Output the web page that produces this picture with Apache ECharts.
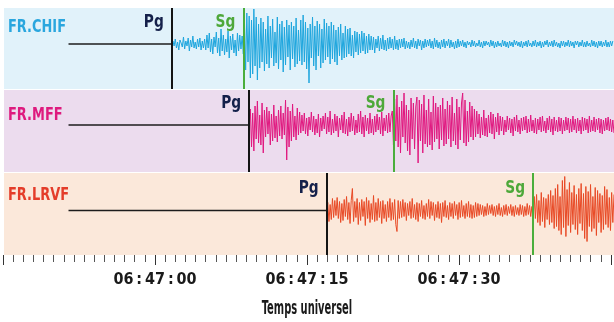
<!DOCTYPE html>
<html><head><meta charset="utf-8">
<script src="https://cdn.jsdelivr.net/npm/echarts@6/dist/echarts.min.js"></script>
<style>html,body{margin:0;padding:0;background:#fff}#c{width:614px;height:322px}</style>
</head><body><div id="c"></div>
<script>
// ---------- DATA ----------
const stations = ['FR.CHIF', 'FR.MFF', 'FR.LRVF'];
// seconds relative to 06:47:00 UT
const pgTimes = [1.8, 8.4, 15.0];
const sgTimes = [7.9, 20.7, 32.6];
const phaseNames = ['Pg', 'Sg'];
const flatStart = -7;          // start of the quiet (pre-event) trace
const sampleStep = 0.1;        // seconds between samples
const tickValues = [0, 15, 30];
const tickLabels = ['06\u2009:\u200947\u2009:\u200900', '06\u2009:\u200947\u2009:\u200915', '06\u2009:\u200947\u2009:\u200930'];
const axisTitle = 'Temps universel';

const chifValues = [
  0, 3, -2, 5, -4, 2, -6, 4, 1, -3, 7, -5, 3, -2, 6, -7, 4, -3, 8, -4, 2, -5, 5, -3, 6, -6, 3, -4, 5,
  -6, 9, -4, 11, -8, 5, -10, 7, -3, 12, -9, 6, -12, 15, -7, 9, -11, 5, -8, 13, -14, 8, -6, 10, -9, 4, -12, 11, -7, 9, -5, 8,
  -10, 22, -26, 31, -18, 28, -34, 24, -30, 35, -22, 27, -36, 20, -24,
  26, -18, 22, -27, 15, -20, 28, -24, 18, -14, 25, -22, 12, -19, 27, -25, 20, -16, 23, -28, 17, -21, 24, -13, 19, -26, 22, -15, 18, -23, 26, -20, 14, -17,
  24, -21, 29, -18, 22, -25, 16, -39, 20, -14, 27, -22, 18, -26, 23, -12, 20, -24, 15, -19, 25, -16, 21, -13, 18, -20,
  22, -15, 19, -18, 14, -21, 17, -12, 20, -16, 11, -14, 18, -13, 15, -10, 16, -12, 9, -14, 13, -8, 12, -11, 10, -9, 13, -7, 11, -10, 8, -9, 10, -6,
  8, -6, 7, -9, 5, -4, 8, -7, 6, -5, 9, -6, 4, -7, 6, -5, 7, -4, 5, -6, 8, -5, 4, -6, 5,
  -4, 5, -3, 6, -5, 3, -4, 2, -5, 4, -3, 6, -4, 3, -5, 5, -2, 4, -6, 3, -4, 5, -3, 4, -2, 5, -4, 3, -5, 6,
  -3, 4, -4, 2, -5, 4, -3, 5, -4, 3, -2, 5, -4, 4, -3, 2, -5, 3, -4, 5, -3,
  3, -2, 4, -3, 2, -4, 3, -1, 2, -3, 4, -2, 3, -3, 1, -2, 4, -3, 2, -4, 3, -2, 3, -1, 2, -3, 4, -2, 3, -4,
  2, -3, 3, -2, 1, -3, 4, -2, 3, -3, 2, -4, 3, -2, 2, -3, 4, -1, 3, -2, 2, -3, 3, -4, 2, -2, 3, -3, 4, -2,
  1, -3, 3, -2, 4, -3, 2, -2, 3, -4, 2, -3, 3, -1, 4, -3, 2, -2, 3, -3, 4, -2, 2, -3, 1, -4, 3, -2, 3, -3,
  2, -2, 4, -3, 3, -2, 2, -4, 3, -1, 3, -3, 2, -2, 4, -3, 2, -3, 3, -2, 1, -3, 4, -2, 3, -3, 2, -4, 3, -2,
  3, -3, 2, -2, 4, -3, 2, -3, 3, -2, 3
];
const mffValues = [
  0, 16, -22, 12, -26, 19, -14, 24, -18, 10, -20,
  22, -28, 15, -12, 18, -9, 14, -20, 11, -16, 20, -13, 9, -17, 15, -11, 19, -14, 12, -10, 25, -35, 18, -22, 14, -16, 21, -12, 9, -15, 17, -10, 13,
  -8, 10, -6, 12, -9, 7, -11, 8, -5, 13, -7, 9, -10, 6, -8, 11, -12, 7, -6, 9, -4, 12, -9, 8, -7, 14, -10, 6, -8, 11,
  -6, 9, -12, 7, -5, 10, -8, 13, -9, 6, -11, 8, -7, 12, -6, 9, -10, 5, -8, 11, -7, 14, -9, 8, -12, 10, -6, 7, -9, 12,
  -8, 6, -10, 9, -7, 11, -5, 8, -9, 13, -11, 7, -6, 10, -8, 12, -7, 9,
  14, -20, 26, -16, 30, -22, 18, -28, 24, -12, 32, -18, 20, -26, 15, -30, 27, -14, 22, -24, 18, 28, -38, 25, -16,
  21, -28, 30, -19, 15, -22, 26, -20, 13, -25, 29, -17, 22, -14, 18, -24, 20, -15, 27, -21,
  16, -19, 24, -14, 20, -22, 28, -16, 12, -20, 26, -24, 18, -15, 22, 32, -18, 25, -21, 14, -17, 23, -12, 19, -15, 16,
  -12, 14, -9, 11, -13, 8, -10, 15, -11, 7, -12, 10, -8, 13, -9, 11, -14, 8, -7, 12, -10,
  9, -6, 8, -10, 5, -7, 9, -5, 7, -8, 6, -11, 8, -6, 10, -7, 5, -9, 7, -6, 8, -5, 9, -8, 6, -7, 10, -6, 5, -8,
  7, -9, 6, -5, 8, -7, 9, -6, 4, -8, 7, -5, 9, -7, 6, -10, 8, -6, 5, -7, 8, -6, 7, -9, 5, -6, 8, -5, 7, -8,
  6, -7, 9, -5, 6, -8, 7, -6, 5, -9, 8, -6, 7, -5, 6, -8, 9, -7, 5, -6, 8, -7, 6, -5, 7, -8, 6, -9, 5, -6,
  7, -5, 8, -6, 6, -7, 5, -8
];
const lrvfValues = [
  0, 8, -11, 6, -9, 12, -7, 10, -5, 13, -8, 9, -12, 7, -10, 11, -6, 14, -9, 8, -13, 10, 22, -11, 9, -7, 12, -14, 8, -10,
  11, -6, 9, -15, 13, -8, 10, -12, 7, -9, 15, -11, 8, -10, 12, -7, 9, -13, 10, -8, 6, -11, 9, -7, 12, -10, 8, -9, 11, -14,
  -21, 10, -8,
  9, -7, 11, -6, 8, -10, 7, -5, 9, -8, 12, -7, 6, -9, 8, -11, 7, -6, 10, -8, 5, -9, 7, -6, 11, -8, 9, -5, 8, -10,
  6, -7, 9, -8, 7, -12, 8, -6, 10, -7, 5, -9, 8, -6, 7, -8, 9, -5, 6, -9, 8, -7, 10, -6, 5, -8, 7, -6, 9, -7,
  6, -8, 5, -7, 8, -6, 7, -5,
  6, -4, 5, -6, 4, -5, 7, -4, 5, -3, 6, -5, 4, -6, 5, -4, 7, -5, 3, -6, 5, -4, 6, -5, 4, -3, 6, -5, 4, -6,
  5, -4, 3, -5, 6, -4, 5, -6, 4, -5, 7, -4, 5, -6, 4,
  -10, 14, -8, 16, -12, 10, -15, 18, -11, 13, -17, 12, -9, 16, -14, 20, -12, 15, -18, 22, -16, 26, -20, 14, -24, 30, -17, 34, -26, 21,
  -15, 28, -22, 18, -14, 25, -19, 16, -24, 22, -13, 27, -20, 17, -28, 24, -31, 19, -16, 26, -21, 14, -18, 23, -25, 20, -12, 17, -22, 15,
  -19, 24, -14, 21, -17, 13, -20, 18, -12, 16
];
const traces = [chifValues, mffValues, lrvfValues];

// ---------- STYLE / LAYOUT ----------
const FONT = "'DejaVu Sans Condensed','DejaVu Sans',sans-serif";
const K = 610 / 52;            // px per second
const X0 = 4 + 12.5 * K;       // x pixel of 06:47:00
const LABEL_Y = 22;
const panels = [
  { top: 8,   height: 81, min: -45,   max: 36,   bg: '#e1f2fa', color: '#1ea6de', labelColor: '#2aa6de', labelY: 27 },
  { top: 90,  height: 82, min: -47,   max: 35,   bg: '#ecdcee', color: '#e0187f', labelColor: '#de1a7e', labelY: 115 },
  { top: 173, height: 82, min: -44.5, max: 37.5, bg: '#fbe8da', color: '#e84a26', labelColor: '#e43d2a', labelY: 195 }
];
const phaseColors = ['#14204a', '#4ea83a'];

const grid = [], xAxis = [], yAxis = [], series = [], graphic = [];
panels.forEach((p, i) => {
  grid.push({ left: 4, right: 0, top: p.top, height: p.height, show: true, backgroundColor: p.bg, borderWidth: 0 });
  xAxis.push({ type: 'value', gridIndex: i, min: -12.5, max: 39.5, show: false });
  yAxis.push({ type: 'value', gridIndex: i, min: p.min, max: p.max, show: false });
  const vals = traces[i];
  const data = vals.map((v, k) => [pgTimes[i] + k * sampleStep, v]);
  series.push({
    type: 'line', xAxisIndex: i, yAxisIndex: i, data: [[flatStart, 0], [pgTimes[i], 0]],
    symbol: 'none', silent: true, lineStyle: { color: '#1c1c1c', width: 1.5 }
  });
  series.push({
    type: 'line', xAxisIndex: i, yAxisIndex: i, data, symbol: 'none', silent: true,
    lineStyle: { color: p.color, width: 1 },
    markLine: {
      silent: true, symbol: ['none', 'none'], label: { show: false },
      data: [
        { xAxis: pgTimes[i], lineStyle: { color: '#141414', width: 2, type: 'solid' } },
        { xAxis: sgTimes[i], lineStyle: { color: '#4aae3c', width: 2, type: 'solid' } }
      ]
    }
  });
  series.push({
    type: 'custom', xAxisIndex: i, yAxisIndex: i, silent: true,
    data: [[pgTimes[i], LABEL_Y, 0], [sgTimes[i], LABEL_Y, 1]],
    renderItem: (params, api) => {
      const pt = api.coord([api.value(0), api.value(1)]);
      const k = api.value(2);
      return {
        type: 'text', x: pt[0] - 8, y: pt[1], scaleX: 0.85,
        style: { text: phaseNames[k], fill: phaseColors[k], font: 'bold 18px ' + FONT, align: 'right', verticalAlign: 'middle' }
      };
    }
  });
  graphic.push({
    type: 'text', x: 8, y: p.labelY, scaleX: 0.8, silent: true,
    style: { text: stations[i], fill: p.labelColor, font: 'bold 18px ' + FONT, verticalAlign: 'middle', align: 'left' }
  });
});

grid.push({ left: X0 - 15 * K, width: 60 * K, top: 173, height: 82 });
xAxis.push({
  type: 'value', gridIndex: 3, min: -15, max: 45, interval: 15,
  axisLine: { show: false },
  axisTick: { show: true, length: 10, lineStyle: { color: '#333', width: 1 } },
  minorTick: { show: true, splitNumber: 15, length: 7, lineStyle: { color: '#555', width: 1 } },
  splitLine: { show: false }, minorSplitLine: { show: false },
  axisLabel: {
    margin: 17, color: '#1a1a1a', fontFamily: FONT, fontWeight: 'bold', fontSize: 16,
    formatter: (v) => { const j = tickValues.indexOf(v); return j >= 0 ? tickLabels[j] : ''; }
  }
});
yAxis.push({ type: 'value', gridIndex: 3, min: 0, max: 1, show: false });

graphic.push({
  type: 'text', x: 307, y: 309, scaleX: 0.58, silent: true,
  style: { text: axisTitle, fill: '#1a1a1a', font: 'bold 19px ' + FONT, verticalAlign: 'middle', align: 'center' }
});

const chart = echarts.init(document.getElementById('c'), null, { renderer: 'canvas' });
chart.setOption({ animation: false, grid, xAxis, yAxis, series, graphic });
</script></body></html>
